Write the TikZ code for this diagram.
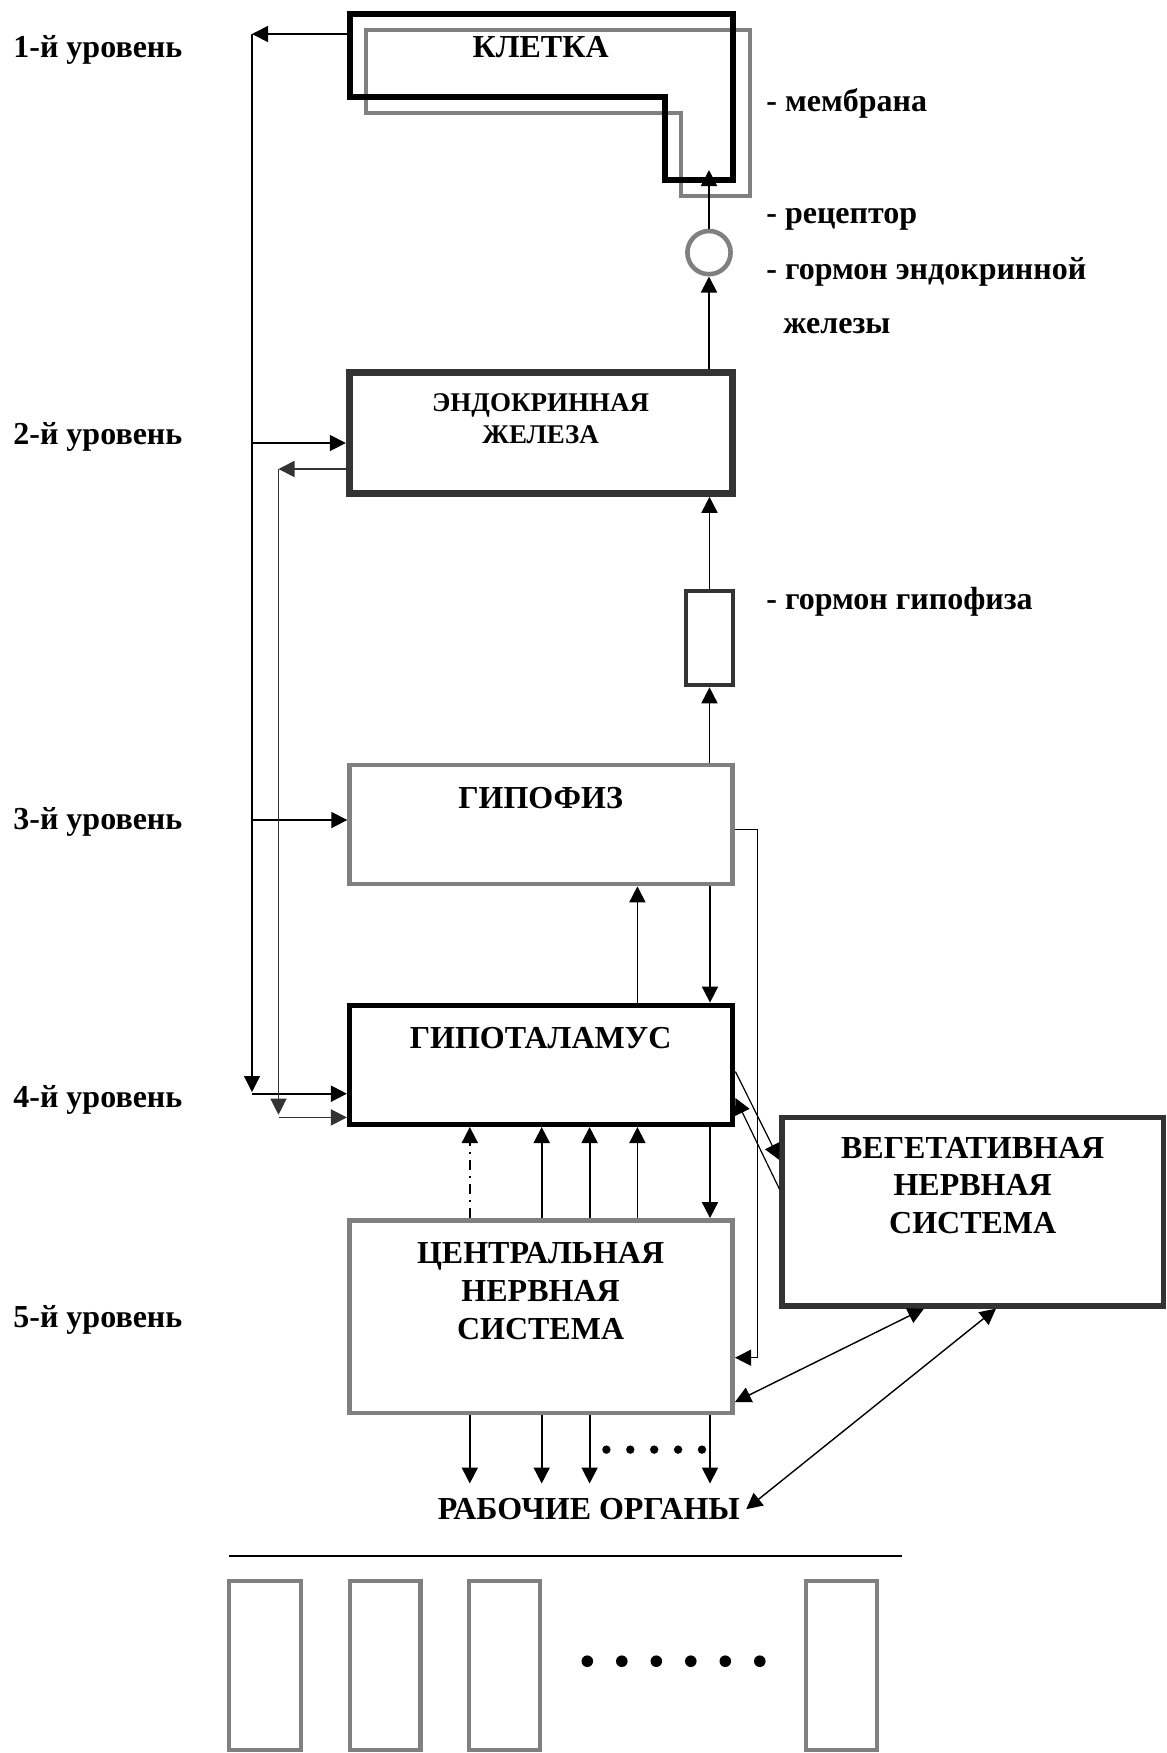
\documentclass[tikz,border=0pt]{standalone}
\usepackage{fontspec}
\setmainfont{Liberation Serif}
\usetikzlibrary{arrows.meta,fit}
\definecolor{greyline}{HTML}{808080}
\definecolor{darkline}{HTML}{333333}

\begin{document}
\begin{tikzpicture}
[x=0.5pt,y=-0.5pt,
  boxDecorate/.style={draw,inner sep=0pt},
  textDecorate/.style={inner sep=0pt,font=\bfseries\fontsize{16}{19}\selectfont},
  lineDecorate/.style={line width=0.9pt,-{Triangle[length=8pt,width=8pt]}},
  busDecorate/.style={line width=0.6pt,-{Triangle[length=8pt,width=8pt]}},
  bothDecorate/.style={line width=0.7pt,{Triangle[length=8pt,width=8pt]}-{Triangle[length=8pt,width=8pt]}},
  dashDecorate/.style={dash pattern=on 5pt off 3pt on 1pt off 3pt}]
\useasboundingbox (0,0) rectangle (1167,1753);
%% cell with membrane
\draw[greyline,line width=2.3pt] (366,30) -- (750,30) -- (750,196) -- (681,196)
  -- (681,113) -- (366,113) -- cycle;
\draw[line width=2.7pt] (350,14) -- (733,14) -- (733,180) -- (665,180)
  -- (665,97) -- (350,97) -- cycle;
\node[textDecorate,anchor=base] (cellname) at (540.6,57.4) {КЛЕТКА};
\coordinate (cellw) at (347.5,34);
\coordinate (cellin) at (709,170);
%% nodes or boxes
\node[boxDecorate,draw=darkline,line width=3.5pt,fit={(349.3,372.7) (732.7,493.3)}] (gland) {};
\node[boxDecorate,draw=greyline,line width=2.3pt,fit={(349.6,765) (732.7,884)}] (pit) {};
\node[boxDecorate,line width=2.7pt,fit={(349.6,1005.3) (732.7,1124.3)}] (hyp) {};
\node[boxDecorate,draw=greyline,line width=2.3pt,fit={(349.6,1220.4) (732.7,1412.9)}] (cns) {};
\node[boxDecorate,draw=darkline,line width=2.6pt,fit={(782,1117.5) (1163.5,1306)}] (vns) {};
\node[boxDecorate,draw=darkline,line width=2.3pt,fit={(686,591) (733,685)}] (hormP) {};
\node[circle,draw=greyline,line width=2.3pt,inner sep=0pt,minimum size=21.6pt] (hormE) at (709,252.6) {};
%% texts
\node[textDecorate,anchor=north,align=center,font=\bfseries\fontsize{13.5}{16}\selectfont]
  (glandname) at (540.6,393.4) {ЭНДОКРИННАЯ\\ЖЕЛЕЗА};
\node[textDecorate,anchor=base] (pitname) at (540.6,808.6) {ГИПОФИЗ};
\node[textDecorate,anchor=base] (hypname) at (540.6,1048.5) {ГИПОТАЛАМУС};
\node[textDecorate,anchor=north,align=center] (cnsname) at (540.6,1241.8)
  {ЦЕНТРАЛЬНАЯ\\НЕРВНАЯ\\СИСТЕМА};
\node[textDecorate,anchor=north,align=center,font=\bfseries\fontsize{16}{18.7}\selectfont]
  (vnsname) at (972.7,1137) {ВЕГЕТАТИВНАЯ\\НЕРВНАЯ\\СИСТЕМА};
\node[textDecorate,anchor=base,inner ysep=7.25pt,inner xsep=3pt] (organs) at (588.8,1519.6)
  {РАБОЧИЕ ОРГАНЫ};
\foreach \lvl/\yy in {1/57.4, 2/444, 3/829.6, 4/1107, 5/1327}
{
  \node[textDecorate,anchor=base west] (lev\lvl) at (13,\yy) {\lvl-й уровень};
}
\node[textDecorate,anchor=base west] (membrane) at (766,111.6) {- мембрана};
\node[textDecorate,anchor=base west] (receptor) at (766,223.5) {- рецептор};
\node[textDecorate,anchor=base west] (hormEname) at (766,279) {- гормон эндокринной};
\node[textDecorate,anchor=base west] (hormEtail) at (783,333) {железы};
\node[textDecorate,anchor=base west] (hormPname) at (766,609.5) {- гормон гипофиза};
%% edges or lines
\coordinate (busA) at (252,34);
\coordinate (busAend) at (252,1092);
\coordinate (busB) at (278.5,469);
\coordinate (busBend) at (278.5,1114.7);
\draw[lineDecorate] (cellw) -- (busA);
\draw[busDecorate] (busA) -- (busAend);
\draw[lineDecorate] (busA |- 0,443) -- (gland.west |- 0,443);
\draw[lineDecorate] (busA |- 0,820) -- (pit.west |- 0,820);
\draw[lineDecorate] (busA |- 0,1093.7) -- (hyp.west |- 0,1093.7);
\draw[lineDecorate,darkline] (gland.west |- 0,469) -- (busB);
\draw[busDecorate,darkline] (busB) -- (busBend);
\draw[lineDecorate,darkline] (busB |- 0,1117.4) -- (hyp.west |- 0,1117.4);
\draw[lineDecorate] (gland.north -| hormE.south) -- (hormE.south);
\draw[lineDecorate] (hormE.north) -- (cellin);
\draw[lineDecorate] (hormP.north) -- (gland.south -| hormP.north);
\draw[lineDecorate] (pit.north -| hormP.south) -- (hormP.south);
\draw[lineDecorate] (hyp.north -| 637.4,0) -- (pit.south -| 637.4,0);
\draw[lineDecorate] (pit.south -| 710,0) -- (hyp.north -| 710,0);
\draw[lineDecorate,dashDecorate] (cns.north -| 469.8,0) -- (hyp.south -| 469.8,0);
\foreach \xx in {541.7,589.6,637.4}
{
  \draw[lineDecorate] (cns.north -| \xx,0) -- (hyp.south -| \xx,0);
}
\draw[lineDecorate] (hyp.south -| 710,0) -- (cns.north -| 710,0);
\foreach \xx in {469.8,541.7,589.6,710}
{
  \draw[lineDecorate] (cns.south -| \xx,0) -- (organs.north -| \xx,0);
}
\draw[busDecorate] (pit.east |- 0,829.6) -| (757.8,1357.7) -- (cns.east |- 0,1357.7);
\draw[busDecorate] (hyp.east |- 0,1071.5) -- (vns.west |- 0,1160);
\draw[busDecorate] (vns.west |- 0,1189) -- (hyp.east |- 0,1098);
\draw[bothDecorate] (cns.east |- 0,1402) -- (vns.south -| 924,0);
\draw[bothDecorate] (organs.east) -- (vns.south -| 996,0);
%% dots and organs row
\foreach \i in {0,...,4}
{
  \fill (606.4+23.9*\i,1449.6) circle[radius=2.1pt];
}
\draw[line width=1pt] (229,1556) -- (902,1556);
\foreach \xa/\xb in {229/301, 350/420.5, 469/540, 806/877}
{
  \draw[greyline,line width=2.3pt] (\xa,1581) rectangle (\xb,1750);
}
\foreach \i in {0,...,5}
{
  \fill (587.3+34.5*\i,1661.2) circle[radius=2.9pt];
}
\end{tikzpicture}
\end{document}
